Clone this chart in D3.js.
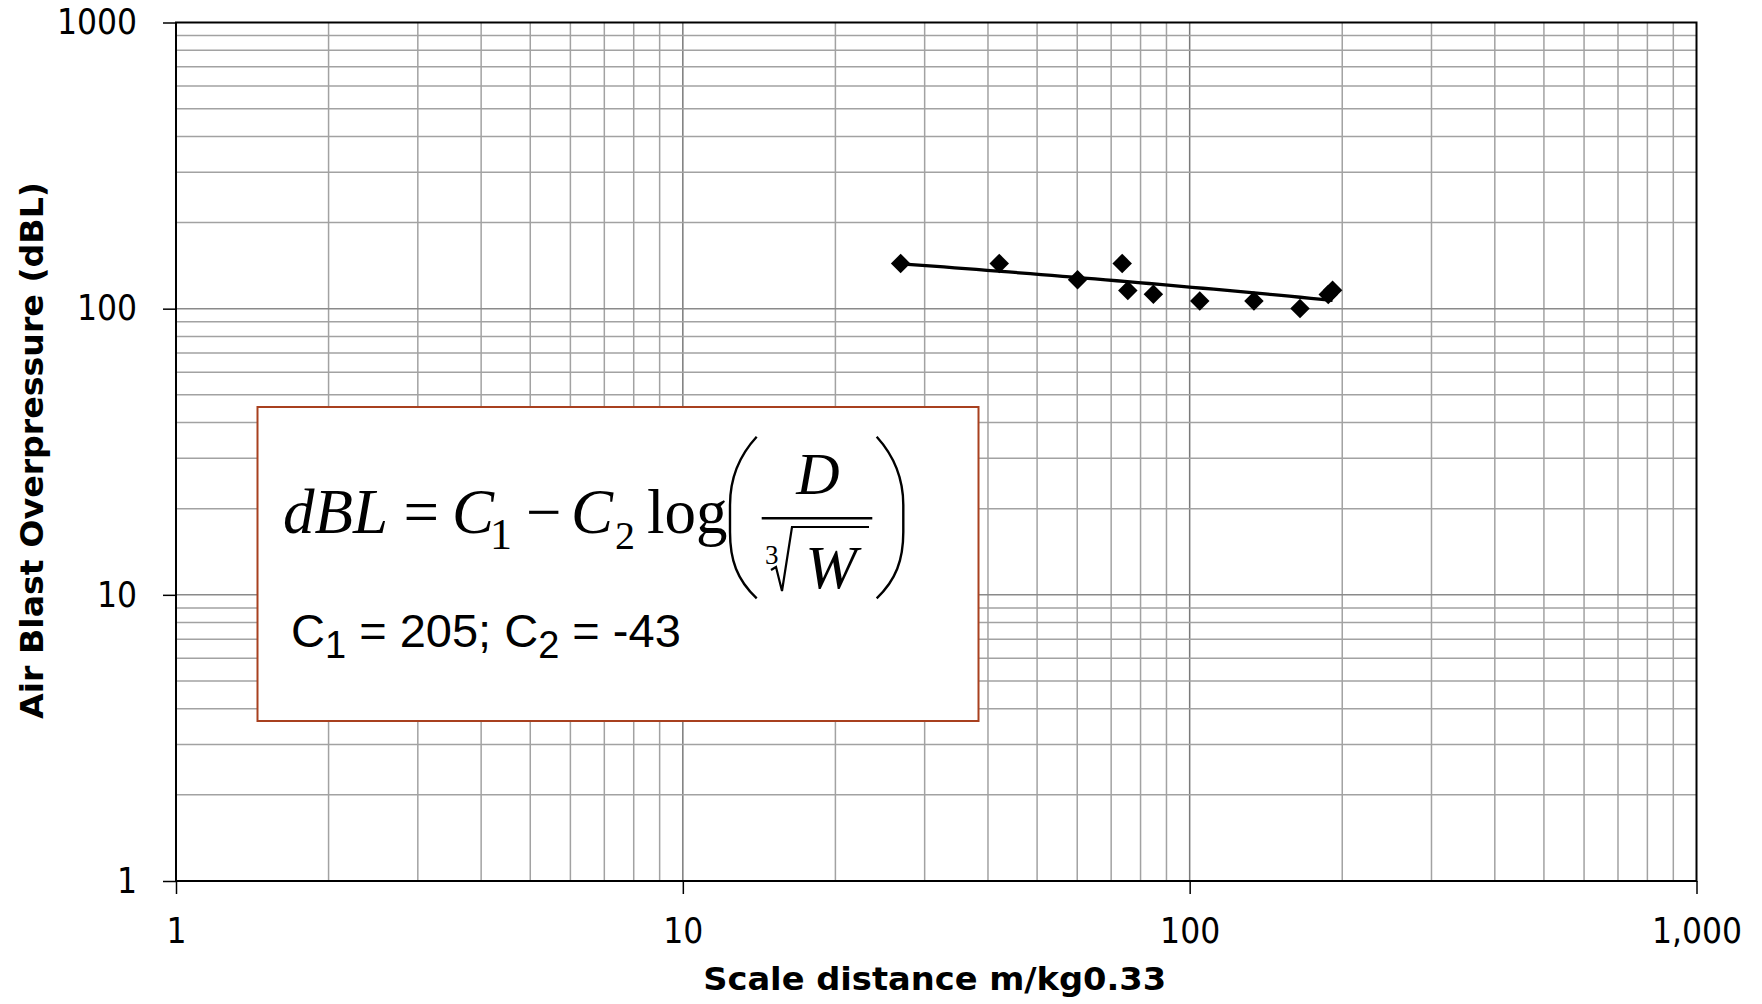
<html lang="en">
<head>
<style>
body { margin: 0; background: #fff; }
svg { display: block; }
.tick text { font-family: "DejaVu Sans Condensed", "DejaVu Sans", sans-serif; font-stretch: condensed; }
</style>
</head>
<body>
</body>
<script src="https://d3js.org/d3.v7.min.js"></script>
<script>
var width = 1762, height = 1004;

const distance = [26.9, 42.1, 60.1, 73.6, 75.5, 84.8, 104.7, 133.9, 165.1, 187.7, 191.4];
const dbl      = [143.9, 143.9, 126.3, 143.9, 115.8, 112.2, 106.4, 106.4, 100.2, 112, 116];

// fitted constants shown in the note
const C1 = 205, C2 = -43;

const xTicks = [1, 10, 100, 1000];
const yTicks = [1, 10, 100, 1000];

var plotLeft = 176, plotRight = 1696.5, plotTop = 22.5, plotBottom = 881;

var svg = d3.select('body').append('svg').attr('width', width).attr('height', height);

var x = d3.scaleLog().domain([1, 1000]).range([plotLeft, plotRight]);
var y = d3.scaleLog().domain([1, 1000]).range([plotBottom, plotTop]);

function isMajor(v) { return Math.abs(Math.log10(v) - Math.round(Math.log10(v))) < 1e-9; }

// grid
var grid = svg.append('g');
grid.selectAll('line.vx')
  .data(x.ticks().filter(function(d) { return d > 1 && d < 1000; }))
  .join('line')
  .attr('x1', function(d) { return x(d); }).attr('x2', function(d) { return x(d); })
  .attr('y1', plotTop).attr('y2', plotBottom)
  .attr('stroke', function(d) { return isMajor(d) ? '#7a7a7a' : '#a2a2a2'; })
  .attr('stroke-width', 1.5);
grid.selectAll('line.hy')
  .data(y.ticks().filter(function(d) { return d > 1 && d < 1000; }))
  .join('line')
  .attr('y1', function(d) { return y(d); }).attr('y2', function(d) { return y(d); })
  .attr('x1', plotLeft).attr('x2', plotRight)
  .attr('stroke', function(d) { return isMajor(d) ? '#8a8a8a' : '#a2a2a2'; })
  .attr('stroke-width', 1.5);

// axes
var yAxis = svg.append('g').attr('transform', 'translate(' + plotLeft + ',0)')
  .call(d3.axisLeft(y).tickValues(yTicks).tickFormat(d3.format('d')).tickSize(13).tickPadding(26));
var xAxis = svg.append('g').attr('transform', 'translate(0,' + plotBottom + ')')
  .call(d3.axisBottom(x).tickValues(xTicks).tickFormat(d3.format(',')).tickSize(13).tickPadding(24));
[yAxis, xAxis].forEach(function(a) {
  a.select('.domain').remove();
  a.selectAll('.tick line').attr('stroke', '#000').attr('stroke-width', 1.5);
  a.selectAll('.tick text').attr('font-size', 35).attr('fill', '#000');
});

// plot frame
svg.append('rect')
  .attr('x', plotLeft).attr('y', plotTop)
  .attr('width', plotRight - plotLeft).attr('height', plotBottom - plotTop)
  .attr('fill', 'none').attr('stroke', '#000').attr('stroke-width', 2);

// trend line
var lo = Math.log10(d3.min(distance)), hi = Math.log10(d3.max(distance));
var trendX = d3.range(0, 41).map(function(i) { return Math.pow(10, lo + (hi - lo) * i / 40); });
var line = d3.line().x(function(d) { return x(d); }).y(function(d) { return y(C1 + C2 * Math.log10(d)); });
svg.append('path').datum(trendX)
  .attr('d', line).attr('fill', 'none').attr('stroke', '#000').attr('stroke-width', 3.3);

// points
svg.append('g').selectAll('path')
  .data(distance)
  .join('path')
  .attr('d', d3.symbol().type(d3.symbolSquare).size(190))
  .attr('transform', function(d, i) { return 'translate(' + x(d) + ',' + y(dbl[i]) + ') rotate(45)'; })
  .attr('fill', '#000');

// axis titles
svg.append('text')
  .attr('x', 934.7).attr('y', 990)
  .attr('text-anchor', 'middle')
  .attr('font-family', '"DejaVu Sans Condensed", "DejaVu Sans", sans-serif')
  .attr('font-stretch', 'condensed')
  .attr('font-weight', 'bold').attr('font-size', 32)
  .attr('textLength', 463).attr('lengthAdjust', 'spacingAndGlyphs')
  .text('Scale distance m/kg0.33');
svg.append('text')
  .attr('transform', 'translate(43,450.5) rotate(-90)')
  .attr('text-anchor', 'middle')
  .attr('font-family', '"DejaVu Sans Condensed", "DejaVu Sans", sans-serif')
  .attr('font-stretch', 'condensed')
  .attr('font-weight', 'bold').attr('font-size', 32)
  .attr('textLength', 537).attr('lengthAdjust', 'spacingAndGlyphs')
  .text('Air Blast Overpressure (dBL)');

// equation note
var note = svg.append('g');
note.append('rect')
  .attr('x', 257.5).attr('y', 407).attr('width', 721).attr('height', 314)
  .attr('fill', '#fff').attr('stroke', '#a8401f').attr('stroke-width', 2);

var serif = '"Liberation Serif", "Times New Roman", serif';
function tx(str, px, py, size, italic, anchor) {
  note.append('text')
    .attr('x', px).attr('y', py)
    .attr('font-family', serif).attr('font-size', size)
    .attr('font-style', italic ? 'italic' : 'normal')
    .attr('text-anchor', anchor || 'start')
    .text(str);
}
tx('dBL', 283, 533, 63, true);
tx('=', 403.5, 533, 63, false);
tx('C', 452, 533, 63, true);
tx('1', 490, 549, 44, false);
tx('\u2212', 526, 533, 63, false);
tx('C', 571, 533, 63, true);
tx('2', 615, 549, 40, false);
tx('log', 647, 533, 63, false);
tx('D', 818, 493.5, 60, true, 'middle');
tx('W', 831, 588, 62, true, 'middle');
tx('3', 765, 564, 27, false);

note.append('line')
  .attr('x1', 761.7).attr('x2', 872.3).attr('y1', 518.3).attr('y2', 518.3)
  .attr('stroke', '#000').attr('stroke-width', 2.5);
note.append('path')
  .attr('d', 'M771,570 L776,567 L782,591 L792,527 L869,527')
  .attr('fill', 'none').attr('stroke', '#000').attr('stroke-width', 2.2);
note.append('path')
  .attr('d', 'M756.7,436.7 C737,458 730,480 730,505 L730,532 C730,560 737,580 756.7,598.3')
  .attr('fill', 'none').attr('stroke', '#000').attr('stroke-width', 2.4);
note.append('path')
  .attr('d', 'M876.7,436.7 C896,458 903.3,480 903.3,505 L903.3,532 C903.3,560 896,580 876.7,598.3')
  .attr('fill', 'none').attr('stroke', '#000').attr('stroke-width', 2.4);

var cl = note.append('text')
  .attr('x', 291).attr('y', 646.7)
  .attr('font-family', '"Liberation Sans", Arial, sans-serif').attr('font-size', 47);
cl.append('tspan').text('C');
cl.append('tspan').attr('dy', 11).attr('font-size', 38).text('1');
cl.append('tspan').attr('dy', -11).text(' = 205; C');
cl.append('tspan').attr('dy', 11).attr('font-size', 38).text('2');
cl.append('tspan').attr('dy', -11).text(' = -43');
</script>
</html>
